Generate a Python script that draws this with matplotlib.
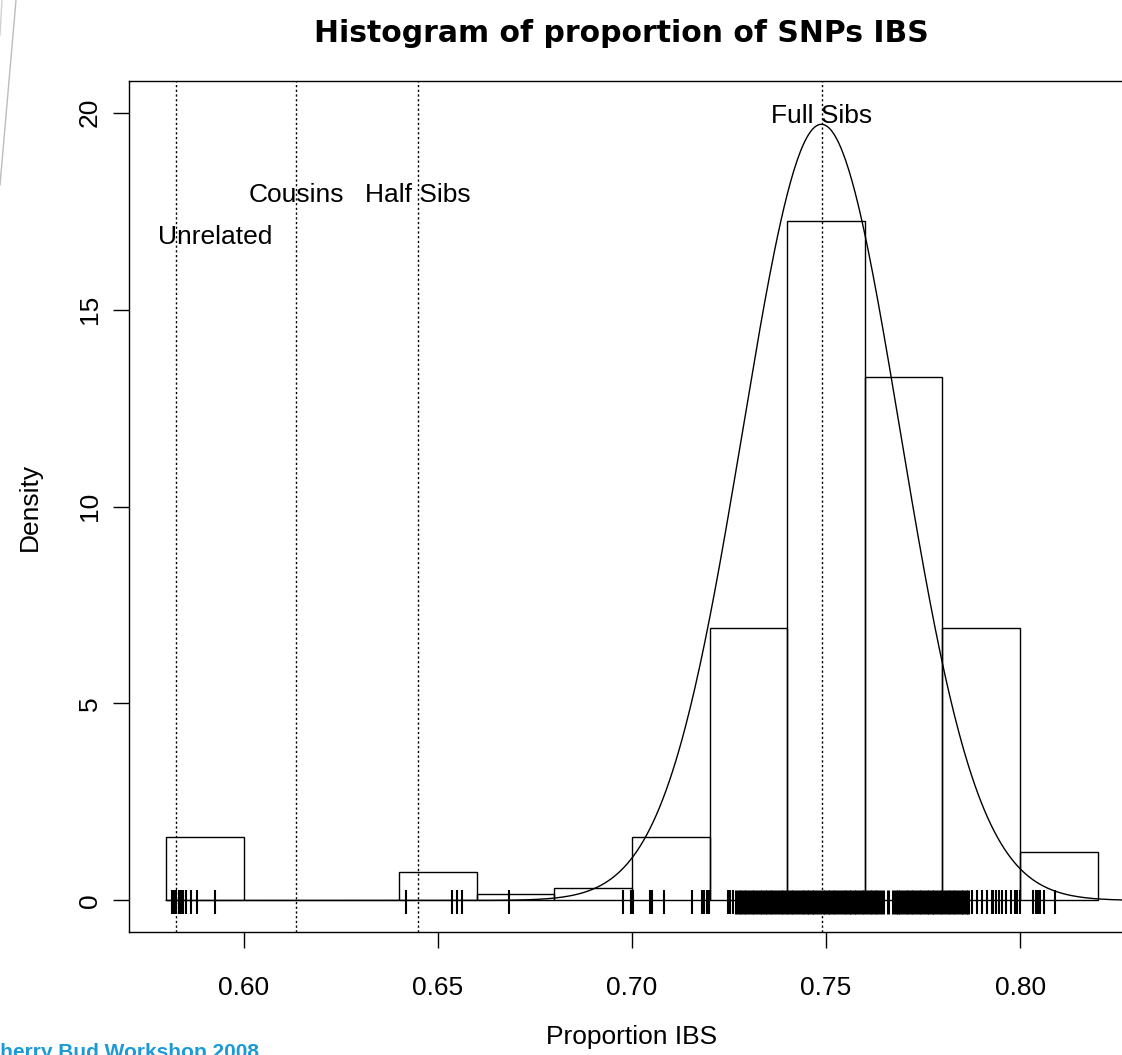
import numpy as np
import matplotlib.pyplot as plt
from matplotlib.lines import Line2D

plt.rcParams['font.family'] = ['Liberation Sans', 'DejaVu Sans']

# histogram (density scale), bin edges 0.58 .. 0.82
bin_edges = [0.58, 0.60, 0.62, 0.64, 0.66, 0.68, 0.70, 0.72, 0.74, 0.76, 0.78, 0.80, 0.82]
densities = [1.60, 0.0, 0.0, 0.72, 0.16, 0.32, 1.60, 6.92, 17.24, 13.28, 6.92, 1.24]

# individual observations shown as a rug under the bars
obs_low = [0.5816, 0.5820, 0.5825, 0.5832, 0.5838, 0.5844, 0.5852, 0.5863, 0.5880, 0.5925,
           0.6418, 0.6535, 0.6550, 0.6561, 0.6683, 0.6976, 0.6997, 0.7003, 0.7046, 0.7051,
           0.7083, 0.7154, 0.7180, 0.7186, 0.7194, 0.7198, 0.7247, 0.7253, 0.7261]
obs_mid = [0.7268, 0.7275, 0.7281, 0.7288, 0.7295, 0.7302, 0.7308, 0.7315, 0.7322, 0.7329,
           0.7335, 0.7342, 0.7349, 0.7356, 0.7362, 0.7369, 0.7376, 0.7383, 0.7389, 0.7396,
           0.7403, 0.7410, 0.7416, 0.7423, 0.7430, 0.7437, 0.7443, 0.7450, 0.7457, 0.7464,
           0.7470, 0.7477, 0.7484, 0.7491, 0.7497, 0.7504, 0.7511, 0.7518, 0.7524, 0.7531,
           0.7538, 0.7545, 0.7551, 0.7558, 0.7565, 0.7572, 0.7578, 0.7585, 0.7592, 0.7599,
           0.7605, 0.7612, 0.7619, 0.7626, 0.7632, 0.7639, 0.7646, 0.7660,
           0.7672, 0.7679, 0.7685, 0.7691, 0.7698, 0.7705, 0.7712, 0.7718, 0.7725, 0.7732,
           0.7739, 0.7745, 0.7752, 0.7759, 0.7766, 0.7772, 0.7779, 0.7786, 0.7793, 0.7799,
           0.7806, 0.7813, 0.7820, 0.7826, 0.7833, 0.7840, 0.7847, 0.7853, 0.7860, 0.7866]
obs_high = [0.7875, 0.7888, 0.7901, 0.7914, 0.7927, 0.7931, 0.7938, 0.7946, 0.7954, 0.7964,
            0.7976, 0.7987, 0.7993, 0.7999, 0.8034, 0.8041, 0.8046, 0.8052, 0.8062, 0.8090]

# fitted normal
fit_mean = 0.7488
fit_sd = 0.02025

# expected IBS for relationship classes
rel_names = ['Unrelated', 'Cousins', 'Half Sibs', 'Full Sibs']
rel_values = [0.5825, 0.6134, 0.6448, 0.7489]
label_x = [0.5925, 0.6134, 0.6448, 0.7489]
label_y = [16.85, 17.9, 17.9, 19.9]

x_ticks = [0.60, 0.65, 0.70, 0.75, 0.80]
y_ticks = [0, 5, 10, 15, 20]

fig = plt.figure(figsize=(11.22, 10.55), dpi=100)
W, H = 1122, 1055
ax = fig.add_axes([129 / W, (H - 932) / H, (1135 - 129) / W, (932 - 81) / H])

ax.bar(bin_edges[:-1], densities, width=np.diff(bin_edges), align='edge',
       fill=False, edgecolor='black', linewidth=1.0)

ax.vlines(obs_low + obs_high, -0.355, 0.254, color='black', linewidth=1.5)
ax.vlines(obs_mid, -0.355, 0.254, color='black', linewidth=2.2)

xs = np.linspace(0.58, 0.8296, 600)
ys = np.exp(-0.5 * ((xs - fit_mean) / fit_sd) ** 2) / (fit_sd * np.sqrt(2 * np.pi))
ax.plot(xs, ys, color='black', linewidth=1.0)

for v in rel_values:
    ax.axvline(v, color='black', linewidth=1.0, linestyle=(0, (1.6, 1.8)))
for name, lx, ly in zip(rel_names, label_x, label_y):
    ax.text(lx, ly, name, ha='center', va='center', fontsize=19)

ax.set_xlim(0.5704, 0.8296)
ax.set_ylim(-0.8, 20.8)
ax.set_xticks(x_ticks)
ax.set_xticklabels([f"{t:.2f}" for t in x_ticks])
ax.set_yticks(y_ticks)
ax.set_yticklabels([str(t) for t in y_ticks], rotation=90, va='center')
ax.tick_params(direction='out', length=11.5, width=1.0, labelsize=19)
ax.tick_params(axis='x', pad=20)
ax.tick_params(axis='y', pad=8)
for s in ax.spines.values():
    s.set_linewidth(1.0)

ax.set_xlabel('Proportion IBS', fontsize=19)
ax.xaxis.set_label_coords(0.5, (932 - 1037) / 851)
ax.xaxis.label.set_va('center')
ax.set_ylabel('Density', fontsize=19)
ax.yaxis.set_label_coords((30 - 129) / 1006, 0.5)
ax.yaxis.label.set_va('center')

ax.text((621 - 129) / 1006, (932 - 33) / 851, 'Histogram of proportion of SNPs IBS',
        transform=ax.transAxes, ha='center', va='center', fontsize=21.5, fontweight='bold',
        family='DejaVu Sans')

# slide decorations
fig.add_artist(Line2D([16 / W, 0], [1, 1 - 185 / H], color='#bdbdbd', linewidth=1.0))
fig.add_artist(Line2D([2 / W, 0], [1, 1 - 35 / H], color='#d0d0d0', linewidth=1.0))
fig.text(-15 / W, -3 / H, 'Cherry Bud Workshop 2008', color='#1a9ad6', fontsize=15,
         fontweight='bold', ha='left', va='baseline')

fig.savefig('out.png', dpi=100)
